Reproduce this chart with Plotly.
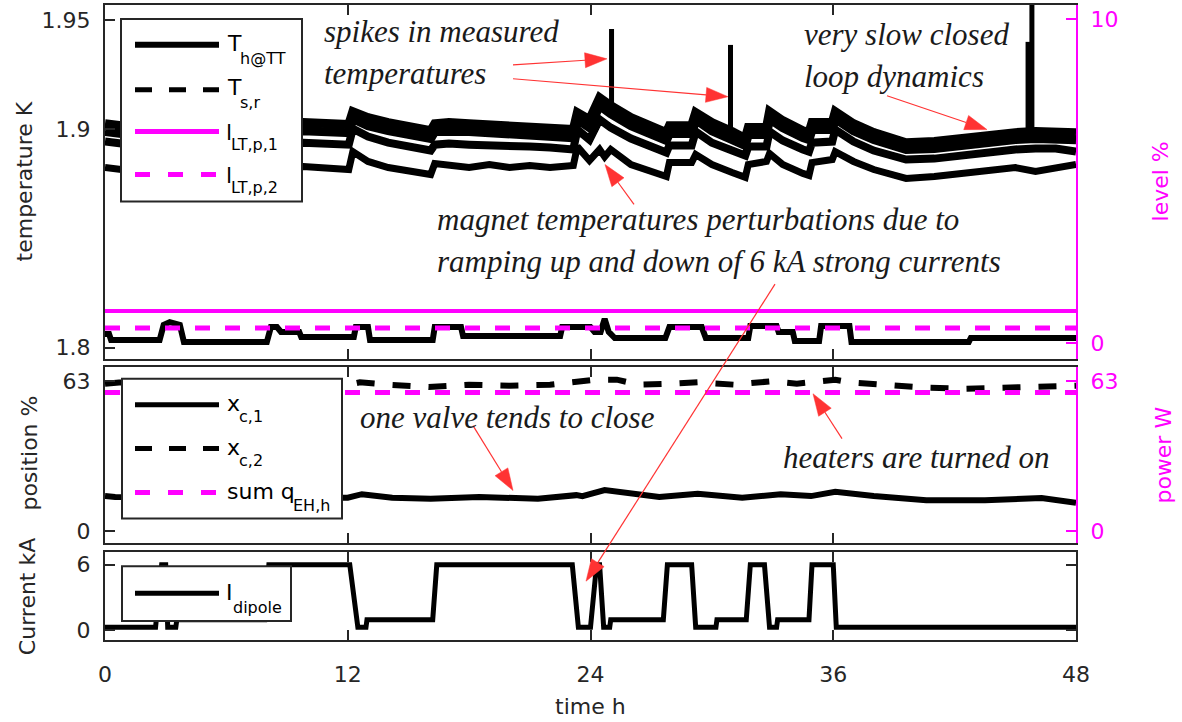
import math
import plotly.graph_objects as go

# ------------------------------------------------------------------ data
T_TIME = [0.0, 0.8, 9.8, 12.05, 12.25, 13.0, 14.0, 15.0, 16.1, 16.3,
          17.0, 18.0, 19.0, 20.0, 21.0, 22.0, 23.15, 23.35, 23.95, 24.45,
          24.7, 25.0, 26.0, 27.0, 27.75, 27.9, 29.0, 29.2, 30.0, 31.0,
          31.65, 31.8, 32.7, 32.85, 33.5, 34.5, 34.8, 34.95, 35.95, 36.1,
          37.0, 38.0, 39.6, 41.0, 43.0, 45.0, 46.0, 47.0, 48.0]
TH_1 = [1.9026, 1.9017, 1.9031, 1.9022, 1.9081, 1.9054, 1.9031, 1.9013, 1.8994, 1.9026,
        1.9031, 1.9026, 1.9022, 1.9017, 1.9013, 1.9008, 1.8999, 1.9077, 1.9045, 1.9145,
        1.9127, 1.9109, 1.9054, 1.9017, 1.8985, 1.9017, 1.9017, 1.9077, 1.9031, 1.8990,
        1.8958, 1.9008, 1.9008, 1.9081, 1.9040, 1.8994, 1.8985, 1.9031, 1.9031, 1.9081,
        1.9026, 1.8985, 1.8939, 1.8944, 1.8967, 1.8985, 1.8990, 1.8990, 1.8985]
TH_2 = [1.8990, 1.8981, 1.8994, 1.8985, 1.9049, 1.9017, 1.8994, 1.8976, 1.8958, 1.8990,
        1.8994, 1.8990, 1.8985, 1.8981, 1.8976, 1.8971, 1.8962, 1.9045, 1.9008, 1.9109,
        1.9090, 1.9072, 1.9017, 1.8981, 1.8949, 1.8981, 1.8981, 1.9045, 1.8994, 1.8953,
        1.8926, 1.8976, 1.8976, 1.9049, 1.9008, 1.8962, 1.8953, 1.8999, 1.8999, 1.9049,
        1.8994, 1.8953, 1.8908, 1.8912, 1.8935, 1.8953, 1.8958, 1.8958, 1.8953]
TH_3 = [1.8944, 1.8935, 1.8939, 1.8930, 1.9003, 1.8967, 1.8939, 1.8921, 1.8903, 1.8930,
        1.8935, 1.8930, 1.8930, 1.8926, 1.8921, 1.8917, 1.8908, 1.8999, 1.8953, 1.9045,
        1.9026, 1.9008, 1.8958, 1.8921, 1.8894, 1.8926, 1.8926, 1.8990, 1.8939, 1.8903,
        1.8880, 1.8921, 1.8921, 1.8990, 1.8949, 1.8908, 1.8898, 1.8939, 1.8944, 1.8999,
        1.8944, 1.8903, 1.8862, 1.8866, 1.8889, 1.8908, 1.8912, 1.8912, 1.8898]
TH_4 = [1.8825, 1.8816, 1.8830, 1.8816, 1.8898, 1.8853, 1.8825, 1.8807, 1.8793, 1.8843,
        1.8834, 1.8825, 1.8839, 1.8825, 1.8834, 1.8825, 1.8834, 1.8921, 1.8857, 1.8908,
        1.8875, 1.8908, 1.8839, 1.8807, 1.8784, 1.8848, 1.8848, 1.8885, 1.8839, 1.8802,
        1.8780, 1.8839, 1.8853, 1.8889, 1.8839, 1.8798, 1.8789, 1.8848, 1.8862, 1.8898,
        1.8853, 1.8816, 1.8775, 1.8784, 1.8807, 1.8825, 1.8807, 1.8825, 1.8839]

SPIKE_TIME = [25.04, 30.92, 45.63, 45.82]
SPIKE_BASE = [1.9100, 1.8990, 1.8990, 1.8990]
SPIKE_PEAK = [1.9460, 1.9387, 1.9401, 1.9800]

TSR_TIME = [0.0, 0.2, 0.3, 2.7, 2.9, 3.2, 3.7, 3.9, 8.0, 8.2, 8.5, 8.7, 9.6, 9.7,
            12.3, 12.4, 13.0, 13.1, 16.2, 16.3, 17.6, 17.7, 22.5, 22.6, 24.0, 24.2,
            24.5, 24.7, 24.9, 25.2, 27.7, 27.9, 29.5, 29.7, 31.8, 31.9, 33.2, 33.3,
            34.0, 34.1, 35.3, 35.4, 36.8, 36.9, 42.7, 42.8, 48.0]
TSR = [1.8062, 1.8062, 1.8035, 1.8035, 1.8104, 1.8117, 1.8104, 1.8026, 1.8026, 1.8094,
       1.8094, 1.8072, 1.8072, 1.8049, 1.8049, 1.8094, 1.8094, 1.8035, 1.8035, 1.8094,
       1.8094, 1.8053, 1.8053, 1.8094, 1.8094, 1.8072, 1.8072, 1.8131, 1.8072, 1.8044,
       1.8044, 1.8094, 1.8094, 1.8044, 1.8044, 1.8099, 1.8099, 1.8072, 1.8072, 1.8030,
       1.8030, 1.8099, 1.8099, 1.8026, 1.8026, 1.8044, 1.8044]

LEVEL_TIME = [0.0, 48.0]
LEVEL_1 = [0.99, 0.99]
LEVEL_2 = [0.46, 0.46]

XC1_TIME = [0.0, 0.5, 12.0, 12.7, 14.2, 16.1, 18.5, 21.4, 23.3, 23.6, 24.7, 27.4,
            29.3, 31.5, 33.4, 34.9, 36.1, 38.0, 40.6, 43.5, 46.3, 48.0]
XC1 = [14.8, 14.4, 14.1, 15.6, 14.1, 13.7, 14.4, 13.7, 15.2, 14.8, 17.3, 14.4,
       15.8, 14.1, 15.6, 14.8, 16.6, 14.8, 13.1, 13.1, 14.0, 12.0]
XC2_TIME = [0.0, 0.7, 12.0, 12.6, 14.0, 16.0, 18.0, 20.0, 22.0, 24.2, 25.3, 26.4,
            28.1, 29.3, 31.1, 32.9, 34.2, 34.9, 36.1, 36.8, 38.7, 40.6, 42.5, 44.4,
            46.3, 48.0]
XC2 = [62.0, 62.5, 61.5, 62.6, 61.6, 60.6, 61.6, 61.2, 61.6, 63.7, 63.7, 61.6,
       62.0, 62.6, 61.6, 63.0, 62.0, 62.6, 63.7, 62.6, 61.2, 60.3, 59.9, 60.3,
       60.6, 61.2]
Q_TIME = [0.0, 48.0]
Q_EH = [58.3, 58.3]

I_TIME = [0, 2.5, 2.8, 3.0, 3.1, 3.5, 3.55, 7.9, 8.1, 12.1,
          12.5, 12.9, 12.95, 16.2, 16.4, 23.1, 23.4, 24.0, 24.3, 24.45,
          24.65, 24.95, 25.0, 27.6, 27.8, 29.0, 29.2, 30.2, 30.25, 31.7,
          31.9, 32.6, 32.85, 33.2, 33.25, 34.8, 34.95, 36.0, 36.15, 48]
I_DIPOLE = [0.25, 0.25, 6, 6, 0.25, 0.25, 0.95, 0.95, 6, 6,
            0.25, 0.25, 0.95, 0.95, 6, 6, 0.25, 0.25, 6, 6,
            0.25, 0.25, 0.95, 0.95, 6, 6, 0.25, 0.25, 0.95, 0.95,
            6, 6, 0.25, 0.25, 0.95, 0.95, 6, 6, 0.25, 0.25]

X_TICKS = [0, 12, 24, 36, 48]
T_TICKS = [1.8, 1.9, 1.95]
T_TICK_TEXT = ["1.8", "1.9", "1.95"]
L_TICKS = [0, 10]
P_TICKS = [0, 63]
I_TICKS = [0, 6]

# ------------------------------------------------------------------ style
W, H = 1182, 722
ML, MR, MT, MB = 105, 106, 3, 82
PW, PH = W - ML - MR, H - MT - MB
MAG = "#ff00ff"
INK = "#262626"
RED = "#ff3333"
SANS = "DejaVu Sans"
SERIF = "Liberation Serif"


def px(x):
    return (x - ML) / PW


def py(y):
    return (H - MB - y) / PH


fig = go.Figure()

for vals, w in [(TH_1, 9), (TH_2, 9), (TH_3, 8), (TH_4, 7)]:
    fig.add_trace(go.Scatter(x=T_TIME, y=vals, mode="lines", xaxis="x3", yaxis="y",
                             line=dict(color="black", width=w), showlegend=False))

sx, sy = [], []
for t, b, p in zip(SPIKE_TIME, SPIKE_BASE, SPIKE_PEAK):
    sx += [t, t, None]
    sy += [b, p, None]
fig.add_trace(go.Scatter(x=sx, y=sy, mode="lines", xaxis="x3", yaxis="y",
                         line=dict(color="black", width=5), showlegend=False))

fig.add_trace(go.Scatter(x=TSR_TIME, y=TSR, mode="lines", xaxis="x3", yaxis="y",
                         line=dict(color="black", width=6), showlegend=False))
fig.add_trace(go.Scatter(x=LEVEL_TIME, y=LEVEL_1, mode="lines", xaxis="x3", yaxis="y2",
                         line=dict(color=MAG, width=4), showlegend=False))
fig.add_trace(go.Scatter(x=LEVEL_TIME, y=LEVEL_2, mode="lines", xaxis="x3", yaxis="y2",
                         line=dict(color=MAG, width=5, dash="dash"), showlegend=False))

fig.add_trace(go.Scatter(x=XC1_TIME, y=XC1, mode="lines", xaxis="x2", yaxis="y3",
                         line=dict(color="black", width=6), showlegend=False))
fig.add_trace(go.Scatter(x=XC2_TIME, y=XC2, mode="lines", xaxis="x2", yaxis="y3",
                         line=dict(color="black", width=6, dash="dash"), showlegend=False))
fig.add_trace(go.Scatter(x=Q_TIME, y=Q_EH, mode="lines", xaxis="x2", yaxis="y4",
                         line=dict(color=MAG, width=5, dash="dash"), showlegend=False))

fig.add_trace(go.Scatter(x=I_TIME, y=I_DIPOLE, mode="lines", xaxis="x", yaxis="y5",
                         line=dict(color="black", width=5), showlegend=False))

tickfont = dict(family=SANS, size=22, color=INK)
magfont = dict(family=SANS, size=22, color=MAG)
xcommon = dict(range=[0, 48], tickvals=X_TICKS, ticks="inside", ticklen=10, tickwidth=1.5,
               tickcolor=INK, showline=True, linecolor=INK, linewidth=2, mirror="ticks",
               showgrid=False, zeroline=False, tickfont=tickfont, ticklabelstandoff=14)
ycommon = dict(ticks="inside", ticklen=10, tickwidth=1.5, showline=True, linewidth=2,
               showgrid=False, zeroline=False, ticklabelstandoff=8)

fig.update_layout(
    width=W, height=H, margin=dict(l=ML, r=MR, t=MT, b=MB),
    paper_bgcolor="white", plot_bgcolor="white", showlegend=False,
    xaxis=dict(xcommon, anchor="y5", domain=[0, 1]),
    xaxis2=dict(xcommon, anchor="y3", matches="x", showticklabels=False),
    xaxis3=dict(xcommon, anchor="y", matches="x", showticklabels=False),
    yaxis=dict(ycommon, domain=[0.4427, 1.0], range=[1.79483, 1.95699], anchor="x3",
               tickvals=T_TICKS, ticktext=T_TICK_TEXT, tickcolor=INK, linecolor=INK,
               tickfont=tickfont),
    yaxis2=dict(ycommon, overlaying="y", side="right", anchor="x3", range=[-0.493, 10.44],
                tickvals=L_TICKS, tickcolor=MAG, linecolor=MAG, tickfont=magfont),
    yaxis3=dict(ycommon, domain=[0.1523, 0.4301], range=[-5.02, 69.07], anchor="x2",
                tickvals=P_TICKS, tickcolor=INK, linecolor=INK, tickfont=tickfont),
    yaxis4=dict(ycommon, overlaying="y3", side="right", anchor="x2", range=[-5.02, 69.07],
                tickvals=P_TICKS, tickcolor=MAG, linecolor=MAG, tickfont=magfont),
    yaxis5=dict(ycommon, domain=[0, 0.1381], range=[-0.92, 7.14], anchor="x",
                tickvals=I_TICKS, tickcolor=INK, linecolor=INK, tickfont=tickfont,
                mirror="ticks"),
)

shapes = []
ann = []


def box(x0, y0, x1, y1):
    shapes.append(dict(type="rect", xref="paper", yref="paper", x0=px(x0), x1=px(x1),
                       y0=py(y1), y1=py(y0), fillcolor="white",
                       line=dict(color=INK, width=2), layer="above"))


def sample(y, color, dash="solid", width=5):
    shapes.append(dict(type="line", xref="paper", yref="paper", x0=px(135), x1=px(219),
                       y0=py(y), y1=py(y), line=dict(color=color, width=width, dash=dash),
                       layer="above"))


def text(x, y, s, size=22, color="black", family=SANS):
    ann.append(dict(x=px(x), y=py(y), xref="paper", yref="paper", text=s,
                    showarrow=False, xanchor="left", yanchor="middle",
                    font=dict(family=family, size=size, color=color)))


# legend 1 (temperatures / levels)
box(121, 17, 302, 200)
sample(43, "black", width=6)
sample(88, "black", dash="17px,17px")
sample(130, MAG)
sample(173, MAG, dash="15px,18px")
text(225, 42, "T")
text(238, 57, "h@TT", 16)
text(225, 86, "T")
text(238, 101, "s,r", 16)
text(224, 131, "l")
text(229, 143, "LT,p,1", 16)
text(224, 174, "l")
text(229, 186, "LT,p,2", 16)

# legend 2 (valves / heaters)
box(122, 378, 342, 518)
sample(404, "black")
sample(448, "black", dash="17px,17px")
sample(492, MAG, dash="15px,18px")
text(225, 403, "x")
text(237, 416, "c,1", 16)
text(225, 447, "x")
text(237, 460, "c,2", 16)
text(225, 491, "sum q")
text(291, 505, "EH,h", 16)

# legend 3 (current)
box(122, 566, 291, 621)
sample(593, "black")
text(224, 592, "I")
text(231, 607, "dipole", 16)

# axis titles
for x, y, txt, col in [(24, 180, "temperature K", INK), (1160, 180, "level %", MAG),
                       (30, 453, "position %", INK), (1164, 455, "power W", MAG),
                       (27, 597, "Current kA", INK)]:
    ann.append(dict(x=px(x), y=py(y), xref="paper", yref="paper", text=txt, textangle=-90,
                    showarrow=False, xanchor="center", yanchor="middle",
                    font=dict(family=SANS, size=22, color=col)))
ann.append(dict(x=px(590), y=py(707), xref="paper", yref="paper", text="time h",
                showarrow=False, xanchor="center", yanchor="middle",
                font=dict(family=SANS, size=22, color=INK)))

# italic notes
for x, y, txt in [(322, 30, "spikes in measured"), (322, 72, "temperatures"),
                  (802, 33, "very slow closed"), (802, 75, "loop dynamics"),
                  (435, 218, "magnet temperatures perturbations due to"),
                  (435, 260, "ramping up and down of 6 kA strong currents"),
                  (358, 417, "one valve tends to close"),
                  (781, 457, "heaters are turned on")]:
    text(x, y, "<i>" + txt + "</i>", 31, "#1a1a1a", SERIF)


def arrow(x0, y0, x1, y1, hl=22, hw=7.5):
    dx, dy = x1 - x0, y1 - y0
    n = math.hypot(dx, dy)
    ux, uy = dx / n, dy / n
    bx, by = x1 - hl * ux, y1 - hl * uy
    shapes.append(dict(type="line", xref="paper", yref="paper", x0=px(x0), y0=py(y0),
                       x1=px(bx), y1=py(by), line=dict(color=RED, width=1.2), layer="above"))
    pts = [(x1, y1), (bx - hw * uy, by + hw * ux), (bx + hw * uy, by - hw * ux)]
    path = "M " + " L ".join(f"{px(a):.5f},{py(b):.5f}" for a, b in pts) + " Z"
    shapes.append(dict(type="path", xref="paper", yref="paper", path=path,
                       fillcolor=RED, line=dict(color=RED, width=0.5), layer="above"))


arrow(513, 63, 607, 57)
arrow(513, 77, 728, 95)
arrow(887, 94, 987, 128)
arrow(634, 203, 605, 163)
arrow(775, 283, 586, 581)
arrow(473, 425, 513, 490)
arrow(842, 438, 813, 393)

fig.update_layout(shapes=shapes, annotations=ann)
fig.write_html("out.html")
